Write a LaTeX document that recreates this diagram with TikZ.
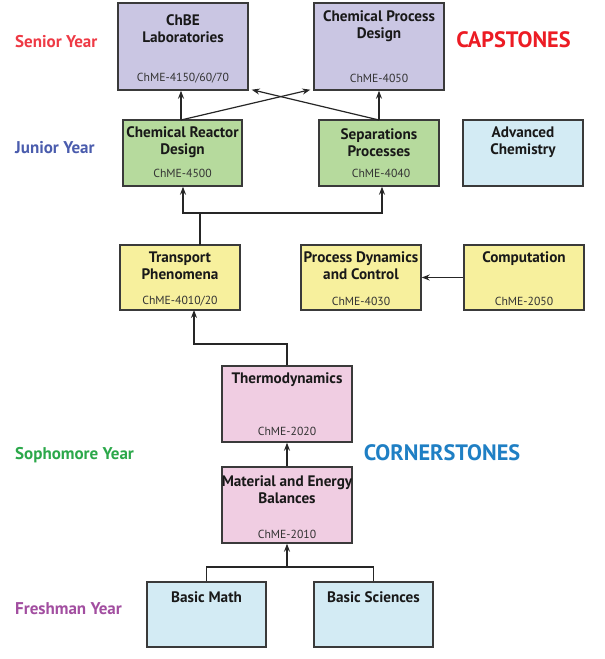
\documentclass[tikz,border=0pt]{standalone}
\usepackage{fontspec}
\setmainfont{PT Sans}
\usetikzlibrary{arrows.meta,calc}
\definecolor{purplebox}{HTML}{CAC6E3}
\definecolor{greenbox}{HTML}{B6DA9D}
\definecolor{bluebox}{HTML}{D3EBF4}
\definecolor{yellowbox}{HTML}{F7F09D}
\definecolor{pinkbox}{HTML}{F0CDE2}
\definecolor{edgegray}{HTML}{3A3A3A}
\definecolor{seniorred}{HTML}{EE3A45}
\definecolor{capred}{HTML}{EC1C24}
\definecolor{juniorblue}{HTML}{4A5CAD}
\definecolor{sophgreen}{HTML}{2BA84A}
\definecolor{cornerblue}{HTML}{1F7FC4}
\definecolor{freshpurple}{HTML}{A24EA0}
\tikzset{
  box/.style={draw=edgegray,line width=1.4pt,rectangle,inner sep=0pt},
  title/.style={font=\fontsize{15.2}{17}\selectfont\bfseries,align=center,inner sep=0pt,text=black!90},
  code/.style={font=\fontsize{11.7}{13}\selectfont,inner sep=0pt,text=black!80},
  year/.style={font=\fontsize{17}{19}\selectfont\bfseries,anchor=west,inner sep=0pt},
  big/.style={font=\fontsize{22.3}{24}\selectfont\bfseries,inner sep=0pt},
  arr/.style={draw=black!85,line width=1.2pt,-{Stealth[length=8pt,width=6pt]}},
  ln/.style={draw=black!85,line width=1.2pt}
}
\begin{document}
\begin{tikzpicture}[x=1pt,y=-1pt]
\useasboundingbox (0,0) rectangle (605,659);
% boxes
\node[box,fill=purplebox,minimum width=130pt,minimum height=87pt] (chbe) at (183,46.5) {};
\node[box,fill=purplebox,minimum width=130pt,minimum height=87pt] (cpd) at (379,46.5) {};
\node[box,fill=greenbox,minimum width=119pt,minimum height=66pt] (reactor) at (182.5,153) {};
\node[box,fill=greenbox,minimum width=120pt,minimum height=66pt] (sep) at (379,153) {};
\node[box,fill=bluebox,minimum width=120pt,minimum height=66pt] (adv) at (523,153) {};
\node[box,fill=yellowbox,minimum width=120pt,minimum height=65pt] (transport) at (180,277.5) {};
\node[box,fill=yellowbox,minimum width=120pt,minimum height=65pt] (pdc) at (361,277.5) {};
\node[box,fill=yellowbox,minimum width=120pt,minimum height=65pt] (comp) at (524,277.5) {};
\node[box,fill=pinkbox,minimum width=130pt,minimum height=76pt] (thermo) at (287,404) {};
\node[box,fill=pinkbox,minimum width=130pt,minimum height=76pt] (mae) at (287,505) {};
\node[box,fill=bluebox,minimum width=119pt,minimum height=65pt] (bmath) at (206.5,614.5) {};
\node[box,fill=bluebox,minimum width=119pt,minimum height=65pt] (bsci) at (373.5,614.5) {};
% titles
\node[title] (chbeT) at (183,28.5) {ChBE\\Laboratories};
\node[title] (cpdT) at (379,26.5) {Chemical Process\\Design};
\node[title] (reactorT) at (182.5,142.5) {Chemical Reactor\\Design};
\node[title] (sepT) at (379,142.5) {Separations\\Processes};
\node[title] (advT) at (523,142.5) {Advanced\\Chemistry};
\node[title] (transportT) at (180,265.5) {Transport\\Phenomena};
\node[title] (pdcT) at (361,265.5) {Process Dynamics\\and Control};
\node[title] (compT) at (524,259) {Computation};
\node[title] (thermoT) at (287,380) {Thermodynamics};
\node[title] (maeT) at (287,489.5) {Material and Energy\\Balances};
\node[title] (bmathT) at (206.5,597) {Basic Math};
\node[title] (bsciT) at (373.5,597) {Basic Sciences};
% codes
\node[code] (chbeC) at (183,78) {ChME-4150/60/70};
\node[code] (cpdC) at (379,78) {ChME-4050};
\node[code] (reactorC) at (182.5,173) {ChME-4500};
\node[code] (sepC) at (381,173) {ChME-4040};
\node[code] (transportC) at (180,301) {ChME-4010/20};
\node[code] (pdcC) at (361,301) {ChME-4030};
\node[code] (compC) at (524,301) {ChME-2050};
\node[code] (thermoC) at (287,431) {ChME-2020};
\node[code] (maeC) at (287,534) {ChME-2010};
% labels
\node[year,text=seniorred] (senior) at (15,42) {Senior Year};
\node[year,text=juniorblue] (junior) at (15,148) {Junior Year};
\node[year,text=sophgreen] (soph) at (15,455) {Sophomore Year};
\node[year,text=freshpurple] (fresh) at (15,609) {Freshman Year};
\node[big,text=capred] (cap) at (513.5,40) {CAPSTONES};
\node[big,text=cornerblue] (corner) at (442,453) {CORNERSTONES};
% connectors
\coordinate (rtop) at (181,120);
\coordinate (stop) at (379,120);
\draw[arr] (rtop) -- (rtop |- chbe.south);
\draw[arr] (rtop) -- ($(cpd.south west)+(-3,-1)$);
\draw[arr] (stop) -- (stop |- cpd.south);
\draw[arr] (stop) -- ($(chbe.south east)+(3,-1)$);
\coordinate (tup) at (200,245);
\coordinate (jl) at (183,213);
\coordinate (jr) at (382,213);
\draw[ln] (tup) -- (200,213);
\draw[arr] (200,213) -- (jl) -- (jl |- reactor.south);
\draw[arr] (200,213) -- (jr) -- (jr |- sep.south);
\draw[arr] (comp.west) -- (pdc.east);
\coordinate (tbot) at (194,310);
\coordinate (tj) at (287,344);
\draw[arr] (thermo.north) -- (tj) -- (tbot |- tj) -- (tbot);
\draw[arr] (mae.north) -- (thermo.south);
\coordinate (bj) at (287,567);
\draw[ln] (bmath.north) |- (bj);
\draw[ln] (bsci.north) |- (bj);
\draw[arr] (bj) -- (mae.south);
\end{tikzpicture}
\end{document}
